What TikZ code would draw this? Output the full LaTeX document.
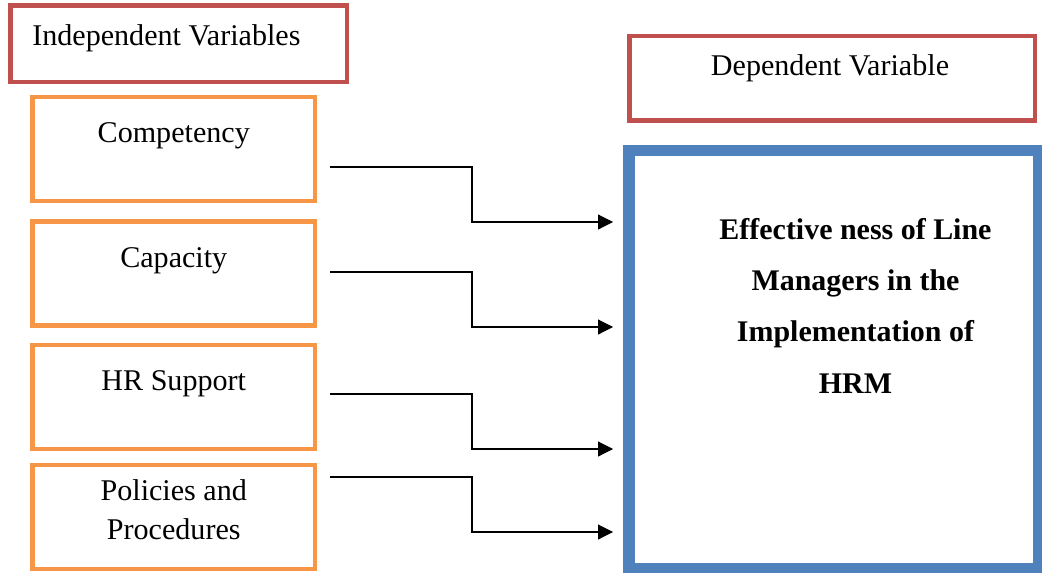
\documentclass[tikz,border=0pt]{standalone}
\usepackage{fontspec}
\setmainfont{Liberation Serif}
\usepackage{xcolor}
\usepackage{tikz}
\usetikzlibrary{arrows.meta}
\definecolor{headred}{HTML}{C0504D}
\definecolor{ivorange}{HTML}{F79646}
\definecolor{dvblue}{HTML}{4F81BD}
\definecolor{ink}{HTML}{000000}
\tikzset{
  head/.style={draw=headred, line width=0.11cm, inner sep=0pt},
  ivbox/.style={draw=ivorange, line width=0.11cm, inner sep=0pt, minimum width=7.06cm, minimum height=2.6cm},
  dvbox/.style={draw=dvblue, line width=0.29cm, inner sep=0pt, minimum width=10.25cm, minimum height=10.46cm},
  lab/.style={text=ink, inner sep=0pt, font=\fontsize{21.4}{27.7}\selectfont},
  labb/.style={text=ink, inner sep=0pt, align=center, font=\fontsize{21.3}{36.3}\selectfont\bfseries},
  conn/.style={draw=ink, line width=0.9pt, -{Triangle[length=0.375cm, width=0.37cm]}, shorten >=0.25cm},
}

\begin{document}
\begin{tikzpicture}[x=0.025cm, y=-0.025cm]
  \useasboundingbox (0,0) rectangle (1042,573);

  % headings
  \node[head, minimum width=8.41cm, minimum height=1.91cm] (ivhead) at (178.75,43.75) {};
  \node[lab, anchor=base west] (ivtitle) at (32,45) {Independent Variables};
  \node[head, minimum width=10.14cm, minimum height=2.11cm] (dvhead) at (832.25,78.25) {};
  \node[lab, anchor=base] (dvtitle) at (830,75) {Dependent Variable};

  % independent variables
  \node[ivbox] (comp) at (173.75,149) {};
  \node[ivbox] (capa) at (173.75,273.5) {};
  \node[ivbox] (hrs) at (173.75,397) {};
  \node[ivbox] (pol) at (173.75,517) {};
  \node[lab, anchor=base] (tcomp) at ([yshift=-1.2cm]comp.north) {Competency};
  \node[lab, anchor=base] (tcapa) at ([yshift=-1.2cm]capa.north) {Capacity};
  \node[lab, anchor=base] (thrs) at ([yshift=-1.2cm]hrs.north) {HR Support};
  \node[lab, anchor=base, align=center] (tpol) at ([yshift=-1.925cm]pol.north) {Policies and\\Procedures};

  % dependent variable
  \node[dvbox] (dv) at (834,359.75) {};
  \node[labb, anchor=base] (tdv) at (855.5,393) {Effective ness of Line\\Managers in the\\Implementation of\\HRM};

  % connectors
  \coordinate (s1) at (330,167);
  \coordinate (s2) at (330,272);
  \coordinate (s3) at (330,394);
  \coordinate (s4) at (330,477);
  \coordinate (b1) at (472,222);
  \coordinate (b2) at (472,327);
  \coordinate (b3) at (472,449);
  \coordinate (b4) at (472,532);
  \draw[conn] (s1) -| (b1) -- (b1 -| dv.west);
  \draw[conn] (s2) -| (b2) -- (b2 -| dv.west);
  \draw[conn] (s3) -| (b3) -- (b3 -| dv.west);
  \draw[conn] (s4) -| (b4) -- (b4 -| dv.west);
\end{tikzpicture}
\end{document}
